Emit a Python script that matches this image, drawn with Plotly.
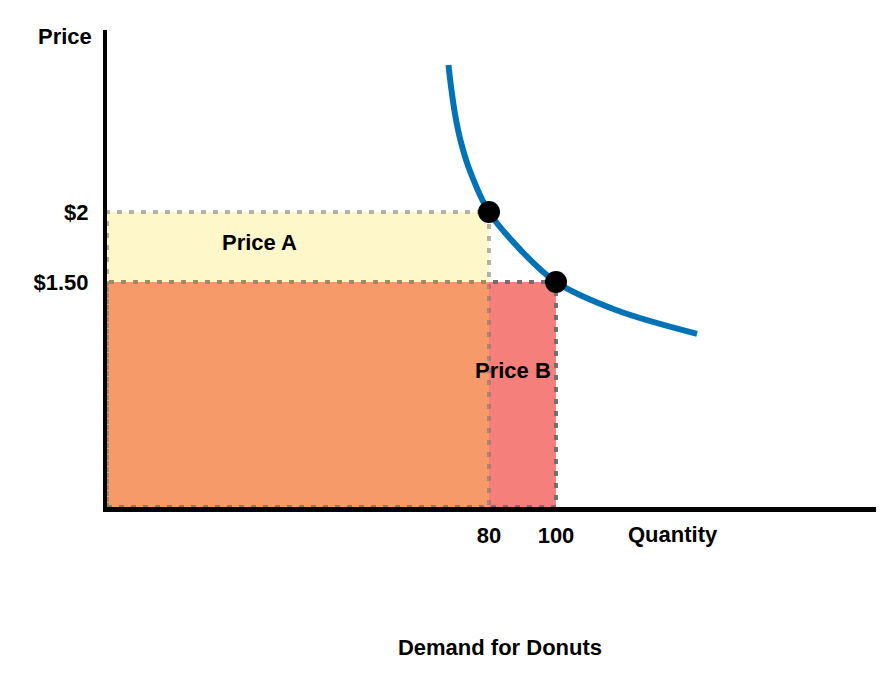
import plotly.graph_objects as go

# ---- data ----
demand_q = [67.9, 68.8, 70.0, 71.5, 73.9, 80, 89.4, 100, 117.9, 142.1]
demand_p = [3.05, 2.87, 2.68, 2.51, 2.32, 2.0, 1.73, 1.5, 1.30, 1.13]
point_q = [80, 100]
point_p = [2.0, 1.5]
x_tick_vals = [80, 100]
x_tick_text = ["80", "100"]
y_tick_vals = [2.0, 1.5]
y_tick_text = ["$2", "$1.50"]
area_labels = ["Price A", "Price B"]
area_label_q = [11.6, 87.2]
area_label_p = [1.78, 0.87]

X_RANGE = [-34.03, 197.91]
Y_RANGE = [-0.107, 3.3]
FONT = "Liberation Sans, Arial, sans-serif"
FS = 22

fig = go.Figure()

fig.add_trace(go.Scatter(x=demand_q, y=demand_p, mode="lines",
                         line=dict(color="#0073B7", width=6, shape="spline", smoothing=1.0),
                         hoverinfo="skip", showlegend=False))
fig.add_trace(go.Scatter(x=point_q, y=point_p, mode="markers",
                         marker=dict(color="black", size=22),
                         showlegend=False))

dash = "5px,7px"
# Price B revenue (100 x 1.50)
fig.add_shape(type="rect", x0=X_RANGE[0], x1=point_q[1], y0=Y_RANGE[0], y1=point_p[1],
              fillcolor="rgb(245,127,122)", line=dict(color="rgb(112,112,112)", width=4, dash=dash),
              layer="below")
# Price A revenue (80 x 2)
fig.add_shape(type="rect", x0=X_RANGE[0], x1=point_q[0], y0=Y_RANGE[0], y1=point_p[0],
              fillcolor="rgba(250,225,60,0.28)", line=dict(color="rgba(112,112,112,0.53)", width=4, dash=dash),
              layer="below")

for i in range(2):
    fig.add_annotation(x=area_label_q[i], y=area_label_p[i],
                       text="<b>" + area_labels[i] + "</b>", showarrow=False,
                       xanchor="center", yanchor="middle",
                       font=dict(family=FONT, size=FS, color="black"))

fig.add_annotation(xref="paper", yref="paper", x=(673 - 107) / 777, y=(507 - 534.5) / 477,
                   text="<b>Quantity</b>", showarrow=False, xanchor="center", yanchor="middle",
                   font=dict(family=FONT, size=FS, color="black"))
fig.add_annotation(xref="paper", yref="paper", x=(65 - 107) / 777, y=(507 - 36.5) / 477,
                   text="<b>Price</b>", showarrow=False, xanchor="center", yanchor="middle",
                   font=dict(family=FONT, size=FS, color="black"))

fig.update_layout(
    width=876, height=682,
    margin=dict(l=99, r=0, t=22, b=183),
    paper_bgcolor="white", plot_bgcolor="white",
    title=dict(text="<b>Demand for Donuts</b>", x=(500 - 8) / 876, xanchor="center",
               xref="container", yref="container", y=1 - (647 - 8) / 682, yanchor="middle",
               font=dict(family=FONT, size=FS, color="black")),
    xaxis=dict(range=X_RANGE, showgrid=False, zeroline=False, showline=True,
               linecolor="black", linewidth=5, ticks="", tickvals=x_tick_vals,
               ticktext=["<b>%s</b>" % t for t in x_tick_text], ticklabelstandoff=5,
               tickfont=dict(family=FONT, size=FS, color="black"), fixedrange=True),
    yaxis=dict(range=Y_RANGE, showgrid=False, zeroline=False, showline=True,
               linecolor="black", linewidth=4, ticks="", tickvals=y_tick_vals,
               ticktext=["<b>%s</b>" % t for t in y_tick_text], ticklabelstandoff=10,
               tickfont=dict(family=FONT, size=FS, color="black"), fixedrange=True),
    showlegend=False,
)

fig.write_html("out.html")
